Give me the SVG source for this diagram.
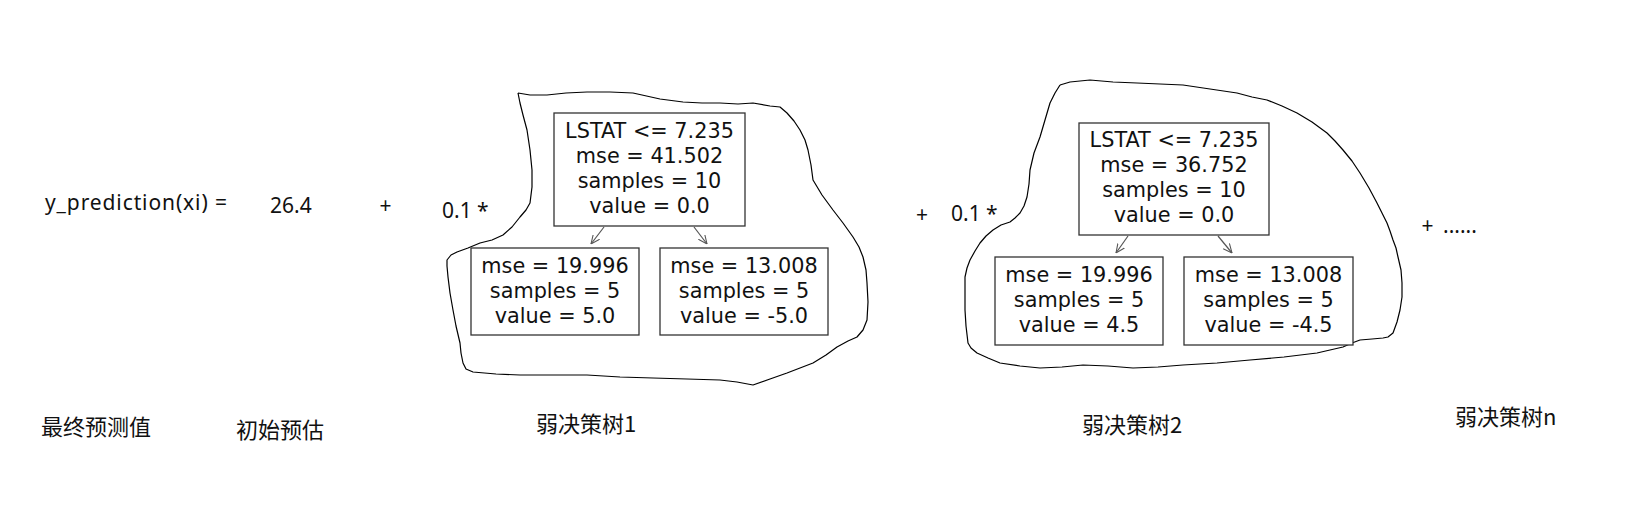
<svg xmlns="http://www.w3.org/2000/svg" width="1631" height="508" viewBox="0 0 1631 508">
<style>
.f{font-family:"Noto Sans","Noto Sans CJK SC",sans-serif;font-size:21px;fill:#111}
.cn{font-family:"Noto Sans CJK SC","Noto Sans",sans-serif;font-size:22px;fill:#111}
.t{font-family:"DejaVu Sans",sans-serif;font-size:20.8px;fill:#111;text-anchor:middle}
.box{fill:#fff;stroke:#333;stroke-width:1.3}
.blob{fill:none;stroke:#000;stroke-width:1.2;stroke-linejoin:round}
.edge{stroke:#555;stroke-width:1.2;fill:none}
</style>
<defs>
<marker id="arr" viewBox="0 0 10 10" refX="10" refY="5" markerWidth="9" markerHeight="9" markerUnits="userSpaceOnUse" orient="auto">
<path d="M0,0.5 L10,5 L0,9.5" fill="none" stroke="#555" stroke-width="1.2"/>
</marker>
</defs>
<rect width="1631" height="508" fill="#fff"/>

<g id="outlines">
<polyline class="blob" points="518,93 530,95 547,95 566,93 587,92 610,92 633,93 660,99 683,102 702,103 720,103 738,104 753,103 770,106 780,107 787,113 794,121 800,130 805,140 808,150 811,165 813,180 822,195 833,210 843,223 853,237 859,247 863,257 866,270 867,283 868,302 867,320 863,330 857,337 848,341 837,347 826,355 813,363 800,368 787,373 770,379 753,385 737,382 720,380 687,379 653,378 620,377 587,375 553,375 520,375 496,374 473,372 466,369 463,363 461,353 460,343 456,326 453,310 450,293 448,277 447,266 447,260 451,255 457,252 468,248 480,243 492,240 503,235 512,227 520,217 526,210 530,203 532,187 532,170 530,150 527,130 523,115 520,103 518,93"/>
<polyline class="blob" points="1060,85 1070,82 1090,80 1113,82 1137,83 1160,84 1183,85 1210,89 1237,93 1252,97 1267,100 1282,106 1297,113 1312,122 1327,133 1335,141 1343,150 1352,161 1360,173 1369,188 1377,203 1382,213 1387,223 1390,231 1393,240 1396,248 1398,257 1401,270 1402,283 1402,297 1400,310 1397,322 1393,333 1388,337 1383,338 1372,339 1360,340 1352,343 1343,347 1330,350 1317,353 1284,357 1250,360 1217,363 1183,365 1158,367 1133,368 1108,366 1083,365 1062,367 1040,368 1020,366 1000,363 988,358 977,353 971,348 968,343 966,326 965,310 965,293 965,277 967,268 970,260 975,251 980,243 986,236 993,230 1001,225 1010,222 1015,218 1020,213 1024,206 1027,197 1029,184 1030,170 1034,153 1040,137 1045,120 1050,103 1055,93 1060,85"/>
</g>

<g id="connectors">
<line class="edge" x1="604" y1="227" x2="591" y2="244" marker-end="url(#arr)"/>
<line class="edge" x1="694" y1="227" x2="707" y2="244" marker-end="url(#arr)"/>
<line class="edge" x1="1128" y1="236" x2="1116" y2="253" marker-end="url(#arr)"/>
<line class="edge" x1="1218" y1="236" x2="1232" y2="253" marker-end="url(#arr)"/>
</g>

<g id="tree1-root">
<rect class="box" x="554" y="113" width="191" height="113"/>
<text class="t" x="649.5" y="138">LSTAT &lt;= 7.235</text>
<text class="t" x="649.5" y="163">mse = 41.502</text>
<text class="t" x="649.5" y="188">samples = 10</text>
<text class="t" x="649.5" y="213">value = 0.0</text>
</g>
<g id="tree1-left">
<rect class="box" x="471" y="248" width="168" height="87"/>
<text class="t" x="555" y="273">mse = 19.996</text>
<text class="t" x="555" y="298">samples = 5</text>
<text class="t" x="555" y="323">value = 5.0</text>
</g>
<g id="tree1-right">
<rect class="box" x="660" y="248" width="168" height="87"/>
<text class="t" x="744" y="273">mse = 13.008</text>
<text class="t" x="744" y="298">samples = 5</text>
<text class="t" x="744" y="323">value = -5.0</text>
</g>

<g id="tree2-root">
<rect class="box" x="1079" y="123" width="190" height="112"/>
<text class="t" x="1174" y="147">LSTAT &lt;= 7.235</text>
<text class="t" x="1174" y="172">mse = 36.752</text>
<text class="t" x="1174" y="197">samples = 10</text>
<text class="t" x="1174" y="222">value = 0.0</text>
</g>
<g id="tree2-left">
<rect class="box" x="995" y="257" width="168" height="88"/>
<text class="t" x="1079" y="282">mse = 19.996</text>
<text class="t" x="1079" y="307">samples = 5</text>
<text class="t" x="1079" y="332">value = 4.5</text>
</g>
<g id="tree2-right">
<rect class="box" x="1184" y="257" width="169" height="88"/>
<text class="t" x="1268.5" y="282">mse = 13.008</text>
<text class="t" x="1268.5" y="307">samples = 5</text>
<text class="t" x="1268.5" y="332">value = -4.5</text>
</g>

<g id="formula">
<text class="f" x="45" y="210" textLength="182">y_prediction(xi) =</text>
<text class="f" x="270" y="213" font-size="22">26.4</text>
<text class="f" x="385.5" y="213" text-anchor="middle">+</text>
<text class="f" x="442" y="218">0.1 *</text>
<text class="f" x="922" y="222" text-anchor="middle">+</text>
<text class="f" x="951" y="221">0.1 *</text>
<text class="f" x="1427.5" y="233" text-anchor="middle">+</text>
<text class="f" x="1443" y="233">......</text>
</g>

<g id="labels">
<text class="cn" x="41" y="435">最终预测值</text>
<text class="cn" x="236" y="438">初始预估</text>
<text class="cn" x="536" y="432">弱决策树1</text>
<text class="cn" x="1082" y="433">弱决策树2</text>
<text class="cn" x="1455" y="425">弱决策树n</text>
</g>
</svg>
